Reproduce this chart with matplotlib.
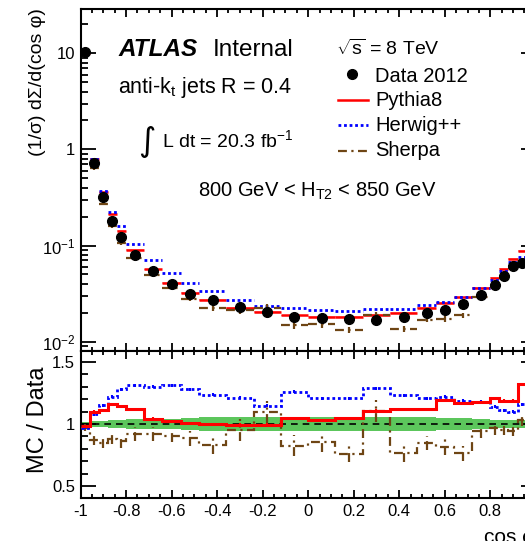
import matplotlib
matplotlib.use('Agg')
import matplotlib.pyplot as plt
import numpy as np
from matplotlib.lines import Line2D
from matplotlib.ticker import MultipleLocator, FixedLocator, FuncFormatter, LogLocator

plt.rcParams['font.family'] = ['Liberation Sans', 'DejaVu Sans']
plt.rcParams['mathtext.fontset'] = 'custom'
plt.rcParams['mathtext.rm'] = 'Liberation Sans'
plt.rcParams['mathtext.it'] = 'Liberation Sans:italic'
plt.rcParams['mathtext.bf'] = 'Liberation Sans:bold'
plt.rcParams['axes.unicode_minus'] = False

W, H = 525, 541   # output size in pixels

# cos(phi) binning (variable width, symmetric)
edges = [-1.0, -0.96, -0.92, -0.88, -0.84, -0.80, -0.72, -0.64, -0.56, -0.48,
         -0.36, -0.24, -0.12, 0.0, 0.12, 0.24, 0.36, 0.48, 0.56, 0.64, 0.72,
         0.80, 0.84, 0.88, 0.92, 0.96, 1.0]

# Data 2012, (1/sigma) dSigma/d(cos phi)
data = [10.4, 0.73, 0.322, 0.182, 0.124, 0.080, 0.0542, 0.040, 0.0317, 0.027,
        0.0227, 0.0204, 0.0179, 0.0177, 0.0174, 0.0170, 0.0179, 0.0199, 0.0213,
        0.0248, 0.0307, 0.0385, 0.0485, 0.0615, 0.066, 0.080]
data_rel_err = [0.018, 0.028, 0.028, 0.035, 0.035, 0.04, 0.04, 0.04, 0.05, 0.055,
                0.055, 0.055, 0.055, 0.055, 0.055, 0.055, 0.055, 0.055, 0.05, 0.05,
                0.04, 0.035, 0.035, 0.035, 0.035, 0.035]

# MC / Data
pythia_ratio = [0.98, 1.10, 1.11, 1.16, 1.145, 1.118, 1.043, 1.024, 1.005, 1.0,
                0.995, 0.995, 1.05, 1.03, 1.05, 1.107, 1.118, 1.118, 1.19, 1.166,
                1.174, 1.206, 1.187, 1.187, 1.32, 1.33]
herwig_ratio = [0.97, 1.08, 1.15, 1.22, 1.28, 1.31, 1.30, 1.31, 1.28, 1.235,
                1.21, 1.147, 1.257, 1.205, 1.205, 1.286, 1.23, 1.206, 1.22, 1.185,
                1.18, 1.14, 1.11, 1.10, 1.16, 1.17]
sherpa_ratio = [0.97, 0.87, 0.845, 0.88, 0.86, 0.92, 0.92, 0.905, 0.885, 0.83,
                0.95, 1.096, 0.826, 0.855, 0.762, 1.104, 0.765, 0.845, 0.818, 0.765,
                0.94, 0.965, 0.95, 0.94, 1.03, 1.02]
pythia_rel_err = [0.01] * 26
herwig_rel_err = [0.012] * 26
sherpa_rel_err = [0.03, 0.035, 0.035, 0.04, 0.05, 0.055, 0.055, 0.05, 0.06, 0.07,
                  0.09, 0.09, 0.085, 0.08, 0.07, 0.09, 0.07, 0.055, 0.07, 0.06,
                  0.05, 0.05, 0.04, 0.04, 0.05, 0.05]

BROWN = '#6e4514'
GREEN = '#5cc65c'
DOT = (0, (1, 1))
DASHDOT = (0, (4, 2, 1, 2))


def fx(px):
    return px / W


def fy(py):
    return 1 - py / H


e = np.array(edges)
lo, hi = e[:-1], e[1:]
ctr = 0.5 * (lo + hi)
d = np.array(data)
r_py, r_hw, r_sh = np.array(pythia_ratio), np.array(herwig_ratio), np.array(sherpa_ratio)
mc_py, mc_hw, mc_sh = d * r_py, d * r_hw, d * r_sh
err_sh = np.array(sherpa_rel_err)
err_d = np.array(data_rel_err)
err_py = np.array(pythia_rel_err)
err_hw = np.array(herwig_rel_err)

fig = plt.figure(figsize=(W / 100, H / 100), dpi=100)
x0, x1 = 80.5, 535.8   # axes run past the right edge of the canvas, as in the original
ax = fig.add_axes([fx(x0), fy(351), (x1 - x0) / W, (351 - 9) / H])
rax = fig.add_axes([fx(x0), fy(498), (x1 - x0) / W, (498 - 351) / H])

# ---- top panel
ax.bar(lo, 0.04 * mc_py, bottom=mc_py * 0.98, width=hi - lo, align='edge',
       color='#ffaaaa', lw=0, zorder=1)
ax.hlines(mc_py, lo, hi, colors='red', lw=1.8, zorder=2)
ax.hlines(mc_hw, lo, hi, colors='blue', lw=2, linestyles=DOT, zorder=2)
ax.hlines(mc_sh, lo, hi, colors=BROWN, lw=1.6, linestyles=DASHDOT, zorder=2)
ax.vlines(ctr, mc_sh * (1 - err_sh), mc_sh * (1 + err_sh), colors=BROWN, lw=1.6, zorder=2)
ax.plot(ctr, d, 'o', color='k', ms=7, zorder=5)
ax.set_yscale('log')
ax.set_ylim(0.0080, 28.9)
ax.set_xlim(-1, 1)


def log_lab(v, _):
    return {10: '10', 1: '1', 0.1: '$10^{-1}$', 0.01: '$10^{-2}$'}.get(round(v, 4), '')


def num_lab(v, _):
    return '0' if abs(v) < 1e-9 else f'{round(v, 2):g}'


def x_lab(v, _):
    # the +1 label sits outside the cropped canvas
    return '' if v > 0.99 else num_lab(v, _)


ax.yaxis.set_major_locator(FixedLocator([0.01, 0.1, 1, 10]))
ax.yaxis.set_major_formatter(FuncFormatter(log_lab))
ax.yaxis.set_minor_locator(LogLocator(base=10, subs=np.arange(2, 10)))
ax.yaxis.set_minor_formatter(FuncFormatter(lambda v, _: ''))
ax.tick_params(axis='x', labelbottom=False)

# ---- ratio panel
rax.bar(lo, 2 * err_d, bottom=1 - err_d, width=hi - lo, align='edge',
        color=GREEN, lw=0, zorder=1)
rax.axhline(1, color='k', ls=(0, (4, 3)), lw=1.2, zorder=2)
rax.stairs(r_sh, e, baseline=None, color=BROWN, lw=1.6, linestyle=DASHDOT, zorder=3)
rax.vlines(ctr, r_sh - err_sh, r_sh + err_sh, colors=BROWN, lw=1.6,
           linestyles=DASHDOT, zorder=3)
rax.stairs(r_hw, e, baseline=None, color='blue', lw=2, linestyle=DOT, zorder=4)
rax.vlines(ctr, r_hw - err_hw, r_hw + err_hw, colors='blue', lw=1.5, zorder=4)
rax.stairs(r_py, e, baseline=None, color='red', lw=2.2, zorder=5)
rax.vlines(ctr, r_py - err_py, r_py + err_py, colors='red', lw=1.5, zorder=5)
rax.set_xlim(-1, 1)
rax.set_ylim(0.406, 1.586)
rax.yaxis.set_major_locator(FixedLocator([0.5, 1.0, 1.5]))
rax.yaxis.set_minor_locator(MultipleLocator(0.1))
rax.yaxis.set_major_formatter(FuncFormatter(num_lab))
rax.xaxis.set_major_formatter(FuncFormatter(x_lab))

for a in (ax, rax):
    a.xaxis.set_major_locator(MultipleLocator(0.2))
    a.xaxis.set_minor_locator(MultipleLocator(0.05))
    a.tick_params(which='both', direction='in', top=True, right=True, width=1.3,
                  labelsize=12, pad=4)
    a.tick_params(axis='y', which='major', length=11)
    a.tick_params(axis='y', which='minor', length=5)
    a.tick_params(axis='x', which='major', length=5.5)
    a.tick_params(axis='x', which='minor', length=3)
    for s in a.spines.values():
        s.set_linewidth(1.5)

# ---- axis titles
fig.text(fx(38), fy(8), '(1/σ) dΣ/d(cos φ)', rotation=90, ha='center', va='top', fontsize=14)
fig.text(fx(38), fy(420), 'MC / Data', rotation=90, ha='center', va='center', fontsize=17)
fig.text(fx(x1), fy(543), 'cos φ', ha='right', va='baseline', fontsize=15)

# ---- labels
fig.text(fx(118), fy(56), 'ATLAS', fontsize=17.5, weight='bold', style='italic', va='baseline')
fig.text(fx(213), fy(56), 'Internal', fontsize=17.5, va='baseline')
fig.text(fx(118), fy(93), r'anti-k$_{\mathrm{t}}$ jets R = 0.4', fontsize=15.5, va='baseline')
fig.text(fx(147), fy(141), '∫', fontsize=24, ha='center', va='center', family='DejaVu Sans')
fig.text(fx(162), fy(147), r'L dt = 20.3 fb$^{-1}$', fontsize=14, va='baseline')
fig.text(fx(198), fy(197), r'800 GeV < H$_{\mathrm{T2}}$ < 850 GeV', fontsize=14.5, va='baseline')
fig.text(fx(336), fy(55), r'$\sqrt{\mathrm{s}}$ = 8 TeV', fontsize=14, va='baseline')

# ---- legend (hand placed)
tf = fig.transFigure
fig.add_artist(Line2D([fx(352)], [fy(74)], marker='o', color='k', ms=7, transform=tf))
fig.add_artist(Line2D([fx(338), fx(368)], [fy(100)] * 2, color='red', lw=1.8, transform=tf))
fig.add_artist(Line2D([fx(338), fx(368)], [fy(125.5)] * 2, color='blue', lw=2, ls=DOT, transform=tf))
fig.add_artist(Line2D([fx(338), fx(368)], [fy(151)] * 2, color=BROWN, lw=1.6, ls=DASHDOT, transform=tf))
for yb, lab in [(81.5, 'Data 2012'), (106.5, 'Pythia8'), (131, 'Herwig++'), (156, 'Sherpa')]:
    fig.text(fx(375), fy(yb), lab, fontsize=14.5, va='baseline')

fig.savefig('out.png', dpi=100)
